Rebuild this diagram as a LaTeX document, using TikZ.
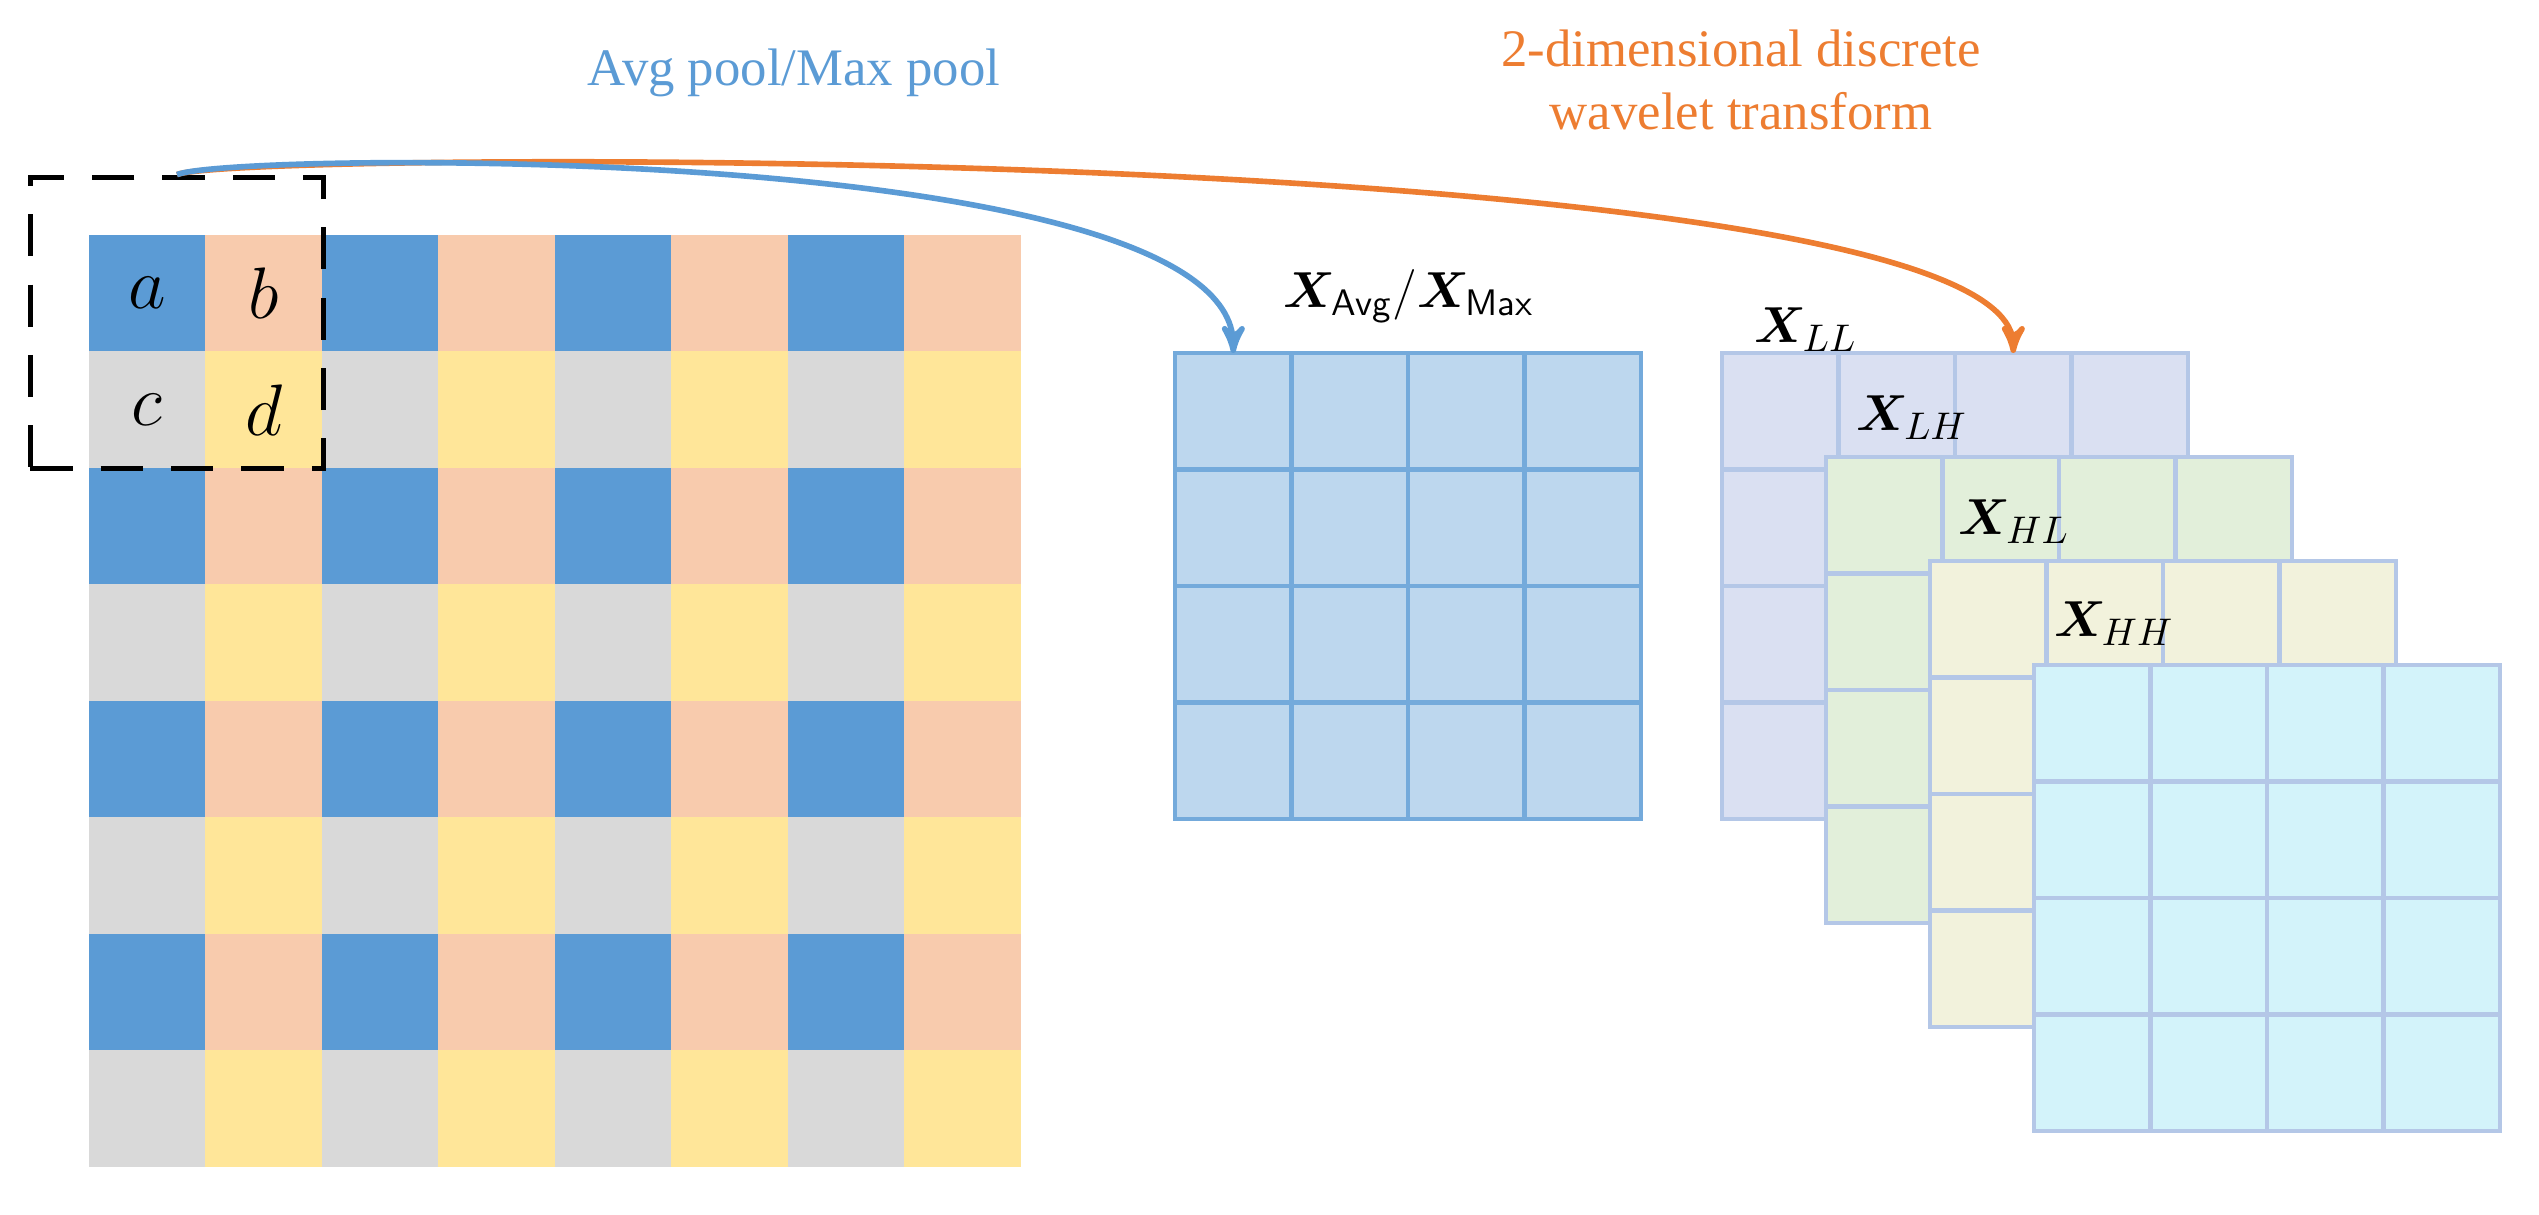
\documentclass[tikz,border=0pt]{standalone}
\usepackage{amsmath}
\usepackage{bm}
\usepackage{fontspec}
\setmainfont{Liberation Serif}
\usepackage{tikz}
\usetikzlibrary{positioning,arrows}

\definecolor{cblue}{HTML}{5B9BD5}
\definecolor{cpeach}{HTML}{F8CBAD}
\definecolor{cgrey}{HTML}{D9D9D9}
\definecolor{cyell}{HTML}{FFE699}
\definecolor{corange}{HTML}{ED7D31}
\definecolor{avgfill}{HTML}{BDD7EE}
\definecolor{llfill}{HTML}{DAE0F2}
\definecolor{lhfill}{HTML}{E2EFDA}
\definecolor{hlfill}{HTML}{F2F2DC}
\definecolor{hhfill}{HTML}{D3F3FA}
\definecolor{subline}{HTML}{B4C7E7}

\begin{document}
\begin{tikzpicture}[x=0.01cm,y=-0.01cm,>=stealth',
		cell/.style={rectangle,inner sep=0pt,outer sep=0pt,minimum size=1.165cm},
		big/.style={cell,draw=none},
		sub/.style={cell,draw=subline,line width=1.2pt},
		lbl/.style={font=\fontsize{15}{18}\selectfont},
		link/.style={line width=1.6pt,->}]
\useasboundingbox (0,0) rectangle (2539,1214);

% input map
\foreach \r in {1,...,8}{
  \foreach \c in {1,...,8}{
    \pgfmathtruncatemacro{\er}{mod(\r,2)}
    \pgfmathtruncatemacro{\ec}{mod(\c,2)}
    \ifnum\er=1
      \ifnum\ec=1 \def\col{cblue}\else\def\col{cpeach}\fi
    \else
      \ifnum\ec=1 \def\col{cgrey}\else\def\col{cyell}\fi
    \fi
    \node [big,fill=\col] (in-\c-\r) at ({89+116.5*(\c-0.5)},{235+116.5*(\r-0.5)}) {};
  }
}
\node [font=\fontsize{21}{24}\selectfont] at (in-1-1) {$a$};
\node [font=\fontsize{21}{24}\selectfont] at (in-2-1) {$b$};
\node [font=\fontsize{21}{24}\selectfont] at (in-1-2) {$c$};
\node [font=\fontsize{21}{24}\selectfont] at (in-2-2) {$d$};
\node [draw,dashed,line width=1.6pt,dash pattern=on 12pt off 8pt,
       minimum width=2.93cm,minimum height=2.91cm,inner sep=0pt] (win) at (177,323) {};

% pooled map
\foreach \r in {1,...,4}{
  \foreach \c in {1,...,4}{
    \node [cell,fill=avgfill,draw=cblue!85,line width=1.2pt] (avg-\c-\r)
       at ({1175+116.5*(\c-0.5)},{353+116.5*(\r-0.5)}) {};
  }
}

% wavelet sub-bands
\foreach \name/\fcol/\k in {ll/llfill/0,lh/lhfill/1,hl/hlfill/2,hh/hhfill/3}{
  \foreach \r in {1,...,4}{
    \foreach \c in {1,...,4}{
      \node [sub,fill=\fcol] (\name-\c-\r)
         at ({1722+104*\k+116.5*(\c-0.5)},{353+104*\k+116.5*(\r-0.5)}) {};
    }
  }
}

% labels
\node [lbl] (xavg) at (1409,296) {$\bm{X}_{\textsf{Avg}}/\bm{X}_{\textsf{Max}}$};
\node [lbl] (xll) at (1806,330) {$\bm{X}_{LL}$};
\node [lbl] (xlh) at (1912,418) {$\bm{X}_{LH}$};
\node [lbl] (xhl) at (2014,522) {$\bm{X}_{HL}$};
\node [lbl] (xhh) at (2114,624) {$\bm{X}_{HH}$};
\node [font=\fontsize{15}{18}\selectfont,text=cblue] (tpool) at (794,73) {Avg pool/Max pool};
\node [font=\fontsize{15}{18}\selectfont,text=corange,align=center] (tdwt) at (1741,80)
      {2-dimensional discrete\\wavelet transform};

% arrows
\draw [link,corange] (win.north) .. controls (230,150) and (2014,140) .. (ll-3-1.north);
\draw [link,cblue] (win.north) .. controls (230,152) and (1234,140) .. (avg-1-1.north);
\end{tikzpicture}
\end{document}
